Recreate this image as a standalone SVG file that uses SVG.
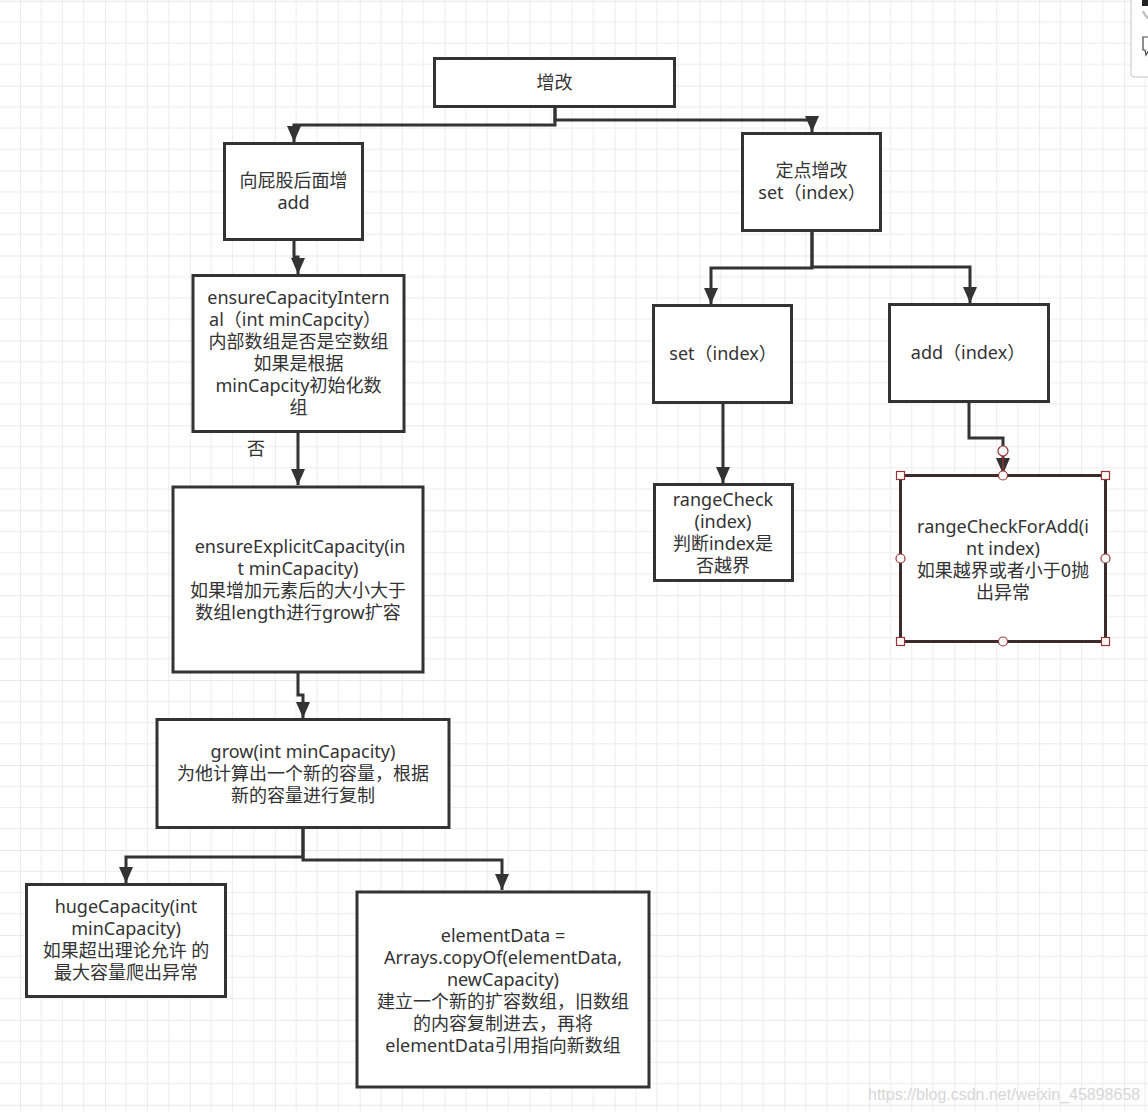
<svg xmlns="http://www.w3.org/2000/svg" width="1148" height="1112" viewBox="0 0 1148 1112">
  <defs>
    <pattern id="grid" patternUnits="userSpaceOnUse" x="20" y="0.7" width="84.93" height="84.93">
      <path d="M21.23 0V84.93M42.47 0V84.93M63.7 0V84.93M0 21.23H84.93M0 42.47H84.93M0 63.7H84.93" stroke="#ececec" stroke-width="1" fill="none"/>
      <path d="M0 0V84.93M0 0H84.93" stroke="#e0e0e0" stroke-width="1.3" fill="none"/>
    </pattern>
    <marker id="arr" markerUnits="userSpaceOnUse" markerWidth="16" markerHeight="14" refX="16" refY="7" orient="auto">
      <path d="M0,0 L16,7 L0,14 Z" fill="#333"/>
    </marker>
    <style>
      .box { fill: #fff; stroke: #333; stroke-width: 3; }
      .sel { fill: #fff; stroke: #3d2b2b; stroke-width: 3; }
      .lbl { font-family: "Noto Sans", "Noto Sans CJK SC", sans-serif; font-size: 18px; fill: #333; text-anchor: middle; }
      .edge { fill: none; stroke: #333; stroke-width: 3; marker-end: url(#arr); }
      .hs { fill: #fff; stroke: #9a3434; stroke-width: 1.2; }
    </style>
  </defs>

  <rect x="0" y="0" width="1148" height="1112" fill="#fff"/>
  <rect x="0" y="0" width="1148" height="1112" fill="url(#grid)"/>

  <!-- top-right toolbar fragment -->
  <g id="toolbar">
    <rect x="1131" y="-6" width="30" height="83" rx="3" fill="#fff" stroke="#c4c4c4" stroke-width="1"/>
    <rect x="1142" y="0" width="8" height="6" fill="#222"/>
    <path d="M1143 11 Q1146 18 1150 19" fill="none" stroke="#bbb" stroke-width="2"/>
    <path d="M1150 37 H1143 V50 H1145 L1146 55 L1149 50 H1150" fill="none" stroke="#444" stroke-width="1.2"/>
  </g>

  <g id="connectors">
    <path class="edge" d="M555,107 V125 H294 V142"/>
    <path class="edge" d="M555,107 V120 H812 V132"/>
    <path class="edge" d="M294,240 V257 H298 V274"/>
    <path class="edge" d="M298,432 V485"/>
    <path class="edge" d="M298,672 V695 H303 V718"/>
    <path class="edge" d="M303,828 V857 H126 V883"/>
    <path class="edge" d="M303,828 V860 H502 V890"/>
    <path class="edge" d="M812,231 V268 H711 V304"/>
    <path class="edge" d="M812,231 V267 H970 V303"/>
    <path class="edge" d="M723,403 V483"/>
    <path class="edge" d="M969,402 V438 H1003 V474"/>
    <line x1="1003" y1="455" x2="1003" y2="474" stroke="#a33" stroke-width="1.2"/>
    <circle cx="1003" cy="451" r="5" class="hs"/>
  </g>

  <g id="n_zenggai">
    <rect class="box" x="434.5" y="58.5" width="240" height="48"/>
    <text class="lbl" x="554.5" y="89">增改</text>
  </g>

  <g id="n_append">
    <rect class="box" x="224.5" y="143.5" width="138" height="96"/>
    <text class="lbl" x="293.5" y="187">向屁股后面增</text>
    <text class="lbl" x="293.5" y="209">add</text>
  </g>

  <g id="n_setpoint">
    <rect class="box" x="742.5" y="133.5" width="138" height="97"/>
    <text class="lbl" x="811.5" y="177">定点增改</text>
    <text class="lbl" x="812" y="199">set（index）</text>
  </g>

  <g id="n_ensureCI">
    <rect class="box" x="193" y="275.5" width="211" height="156"/>
    <text class="lbl" x="298.5" y="304">ensureCapacityIntern</text>
    <text class="lbl" x="295" y="326">al（int minCapcity）</text>
    <text class="lbl" x="298.5" y="348">内部数组是否是空数组</text>
    <text class="lbl" x="298.5" y="370">如果是根据</text>
    <text class="lbl" x="298.5" y="392">minCapcity初始化数</text>
    <text class="lbl" x="298.5" y="414">组</text>
  </g>

  <text id="lbl_no" class="lbl" x="256" y="455">否</text>

  <g id="n_ensureEC">
    <rect class="box" x="173" y="487" width="250" height="185"/>
    <text class="lbl" x="300" y="553">ensureExplicitCapacity(in</text>
    <text class="lbl" x="298" y="575">t minCapacity)</text>
    <text class="lbl" x="298" y="597">如果增加元素后的大小大于</text>
    <text class="lbl" x="298" y="619">数组length进行grow扩容</text>
  </g>

  <g id="n_grow">
    <rect class="box" x="157" y="719.5" width="292" height="108"/>
    <text class="lbl" x="303" y="758">grow(int minCapacity)</text>
    <text class="lbl" x="303" y="780">为他计算出一个新的容量，根据</text>
    <text class="lbl" x="303" y="802">新的容量进行复制</text>
  </g>

  <g id="n_huge">
    <rect class="box" x="26.5" y="884.5" width="199" height="112"/>
    <text class="lbl" x="126" y="913">hugeCapacity(int</text>
    <text class="lbl" x="126" y="935">minCapacity)</text>
    <text class="lbl" x="126" y="957">如果超出理论允许 的</text>
    <text class="lbl" x="126" y="979">最大容量爬出异常</text>
  </g>

  <g id="n_copy">
    <rect class="box" x="357" y="892" width="292" height="195"/>
    <text class="lbl" x="503" y="942">elementData =</text>
    <text class="lbl" x="503" y="964">Arrays.copyOf(elementData,</text>
    <text class="lbl" x="503" y="986">newCapacity)</text>
    <text class="lbl" x="503" y="1008">建立一个新的扩容数组，旧数组</text>
    <text class="lbl" x="503" y="1030">的内容复制进去，再将</text>
    <text class="lbl" x="503" y="1052">elementData引用指向新数组</text>
  </g>

  <g id="n_set">
    <rect class="box" x="653.5" y="305.5" width="138" height="97"/>
    <text class="lbl" x="723" y="360">set（index）</text>
  </g>

  <g id="n_add">
    <rect class="box" x="889.5" y="304.5" width="159" height="97"/>
    <text class="lbl" x="968" y="359">add（index）</text>
  </g>

  <g id="n_rangeCheck">
    <rect class="box" x="654.5" y="484.5" width="138" height="96"/>
    <text class="lbl" x="723" y="506">rangeCheck</text>
    <text class="lbl" x="723" y="528">(index)</text>
    <text class="lbl" x="723" y="550">判断index是</text>
    <text class="lbl" x="723" y="572">否越界</text>
  </g>

  <g id="n_rangeCheckForAdd">
    <rect class="sel" x="900.5" y="475.5" width="205" height="166"/>
    <text class="lbl" x="1003" y="533">rangeCheckForAdd(i</text>
    <text class="lbl" x="1003" y="555">nt index)</text>
    <text class="lbl" x="1003" y="577">如果越界或者小于0抛</text>
    <text class="lbl" x="1003" y="599">出异常</text>
    <rect class="hs" x="896.5" y="471.5" width="8" height="8"/>
    <rect class="hs" x="1101.5" y="471.5" width="8" height="8"/>
    <rect class="hs" x="896.5" y="637.5" width="8" height="8"/>
    <rect class="hs" x="1101.5" y="637.5" width="8" height="8"/>
    <circle class="hs" cx="1003" cy="475.5" r="4.5"/>
    <circle class="hs" cx="1003" cy="641.5" r="4.5"/>
    <circle class="hs" cx="900.5" cy="558.5" r="4.5"/>
    <circle class="hs" cx="1105.5" cy="558.5" r="4.5"/>
  </g>

  <text id="watermark" x="868" y="1100" font-family="'Liberation Sans', Arial, sans-serif" font-size="16" fill="#d6d6d6">https://blog.csdn.net/weixin_45898658</text>
</svg>
